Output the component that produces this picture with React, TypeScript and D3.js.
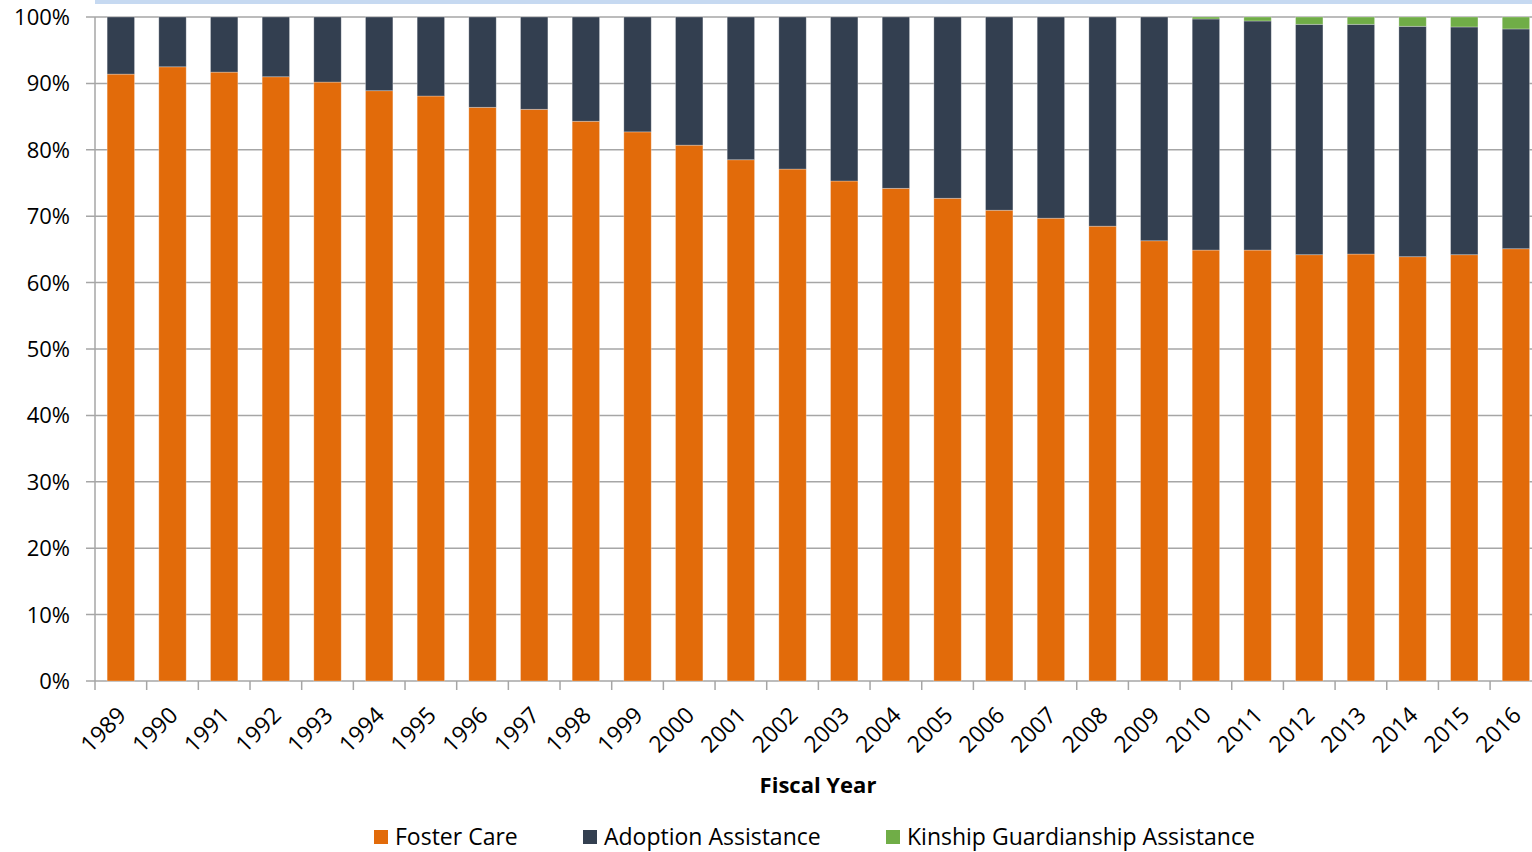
import React from "react";
import * as d3 from "d3";

const years = ["1989","1990","1991","1992","1993","1994","1995","1996","1997","1998","1999","2000","2001","2002","2003","2004","2005","2006","2007","2008","2009","2010","2011","2012","2013","2014","2015","2016"];
const fosterCare = [91.4,92.5,91.7,91.0,90.2,88.9,88.1,86.4,86.1,84.3,82.7,80.7,78.5,77.1,75.3,74.2,72.7,70.9,69.7,68.5,66.3,64.9,64.9,64.2,64.3,63.9,64.2,65.1];
const kinship = [0,0,0,0,0,0,0,0,0,0,0,0,0,0,0,0,0,0,0,0,0,0.3,0.6,1.1,1.1,1.4,1.5,1.8];
const adoption = fosterCare.map((f, i) => 100 - f - kinship[i]);
const yTicks = [0,10,20,30,40,50,60,70,80,90,100];
const seriesNames = ["Foster Care","Adoption Assistance","Kinship Guardianship Assistance"];
const colors = ["#e26b0a","#333f50","#70ad47"];

const W = 1532, H = 852;
const left = 95, top = 17, bottom = 681;
const font = "'Open Sans', 'Noto Sans', sans-serif";

export default function App() {
  const x = d3.scaleBand<string>().domain(years).range([left, left + 28 * 51.67]).paddingInner(0.47).paddingOuter(0.235);
  const step = x.step();
  const y = d3.scaleLinear().domain([0, 100]).range([bottom, top]);
  const rows = years.map((yr, i) => ({ yr, fc: fosterCare[i], aa: adoption[i], kg: kinship[i] }));
  const stack = d3.stack<any>().keys(["fc", "aa", "kg"])(rows);
  const legendX = [374, 583, 886];
  return (
    <div style={{ position: "absolute", left: 0, top: 0 }}>
      <svg width={W} height={H} style={{ display: "block" }}>
        <rect x={0} y={0} width={W} height={H} fill="#fff" />
        <rect x={left} y={0} width={W - left} height={4} fill="#c6d9f1" />
        {yTicks.map((t) => (
          <g key={t}>
            <line x1={86} x2={W} y1={y(t)} y2={y(t)} stroke="#a6a6a6" strokeWidth={1.5} />
            <text x={70} y={y(t)} dy="0.36em" textAnchor="end" fontFamily={font} fontSize={22} fill="#000">{t}%</text>
          </g>
        ))}
        <line x1={left} x2={left} y1={top} y2={bottom} stroke="#a6a6a6" strokeWidth={1.5} />
        {d3.range(29).map((k) => (
          <line key={k} x1={left + k * step} x2={left + k * step} y1={bottom} y2={bottom + 9} stroke="#a6a6a6" strokeWidth={1.5} />
        ))}
        {stack.map((s, si) => (
          <g key={si} fill={colors[si]}>
            {s.map((d, i) => {
              const h = y(d[0]) - y(d[1]);
              if (h <= 0) return null;
              return <rect key={i} x={x(years[i])} y={y(d[1])} width={x.bandwidth()} height={h} stroke="#ffffff" strokeOpacity={0.35} strokeWidth={0.8} />;
            })}
          </g>
        ))}
        {years.map((yr) => {
          const cx = (x(yr) as number) + x.bandwidth() / 2 - 5;
          const cy = bottom + 24;
          return (
            <text key={yr} transform={`translate(${cx},${cy}) rotate(-45)`} textAnchor="end" dy="0.72em" fontFamily={font} fontSize={23} fill="#000">{yr}</text>
          );
        })}
        <text x={818} y={793} textAnchor="middle" fontFamily={font} fontSize={22} fontWeight="bold" fill="#000">Fiscal Year</text>
        {seriesNames.map((n, i) => (
          <g key={n}>
            <rect x={legendX[i]} y={830} width={14} height={14} fill={colors[i]} />
            <text x={legendX[i] + 21} y={845} fontFamily={font} fontSize={23} fill="#000">{n}</text>
          </g>
        ))}
      </svg>
    </div>
  );
}
